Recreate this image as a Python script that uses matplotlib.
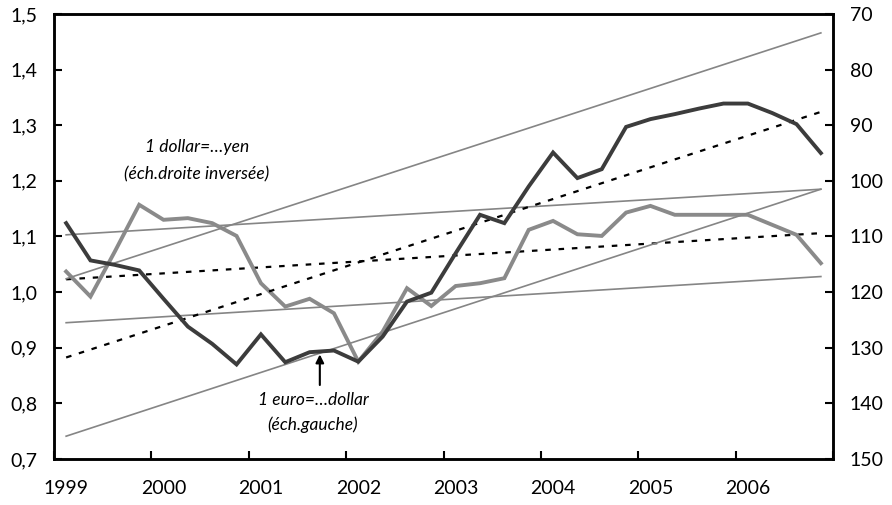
import numpy as np
import matplotlib
matplotlib.use("Agg")
import matplotlib.pyplot as plt

plt.rcParams['font.family'] = ['Lato', 'DejaVu Sans']

# quarterly data, 1999Q1 .. 2006Q4
years = ['1999', '2000', '2001', '2002', '2003', '2004', '2005', '2006']
euro_usd = [1.124, 1.057, 1.049, 1.039, 0.988, 0.938, 0.907, 0.870,
            0.924, 0.874, 0.892, 0.895, 0.875, 0.920, 0.983, 0.999,
            1.070, 1.139, 1.124, 1.190, 1.251, 1.205, 1.221, 1.297,
            1.311, 1.320, 1.330, 1.339, 1.339, 1.322, 1.302, 1.250]
usd_yen = [116.3, 120.8, 112.7, 104.3, 107.0, 106.7, 107.6, 109.9,
           118.4, 122.6, 121.2, 123.8, 132.5, 127.1, 119.3, 122.5,
           118.9, 118.4, 117.5, 108.8, 107.2, 109.6, 109.9, 105.7,
           104.5, 106.1, 106.1, 106.1, 106.1, 107.9, 109.7, 114.8]

# trend lines (start, end) and their bands
euro_trend = [0.8825, 1.324]
euro_upper = [1.024, 1.466]
euro_lower = [0.741, 1.185]
yen_trend = [117.7, 109.4]
yen_upper = [109.7, 101.5]
yen_lower = [125.5, 117.2]

x = np.arange(len(euro_usd))
x_ends = [x[0], x[-1]]

fig = plt.figure(figsize=(8.92, 5.05), dpi=100)
ax = fig.add_axes([0.0605, 0.0911, 0.8734, 0.8812])
ax2 = ax.twinx()

band_col = '#858585'
for vals in (euro_upper, euro_lower):
    ax.plot(x_ends, vals, color=band_col, lw=1.2)
ax.plot(x_ends, euro_trend, color='black', lw=1.6, ls=(0, (2.5, 3.5)))
for vals in (yen_upper, yen_lower):
    ax2.plot(x_ends, vals, color=band_col, lw=1.2)
ax2.plot(x_ends, yen_trend, color='black', lw=1.6, ls=(0, (2.5, 3.5)))

ax2.plot(x, usd_yen, color='#8a8a8a', lw=2.8, solid_joinstyle='miter')
ax.plot(x, euro_usd, color='#3c3c3c', lw=2.8, solid_joinstyle='miter')
ax.set_zorder(ax2.get_zorder() + 1)
ax.patch.set_visible(False)

ax.set_xlim(-0.5, len(x) - 0.5)
ax.set_ylim(0.7, 1.5)
ax2.set_ylim(150, 70)

ax.set_xticks(np.arange(-0.5, len(x), 4))
ax.set_xticklabels([])
ax.set_xticks(np.arange(0, len(x), 4), minor=True)
ax.set_xticklabels(years, minor=True)
ax.tick_params(axis='x', which='major', direction='in', length=6, width=1.5)
ax.tick_params(axis='x', which='minor', length=0, pad=15, labelsize=14)

ax.set_yticks(np.arange(0.7, 1.51, 0.1))
ax.set_yticklabels([f"{v:.1f}".replace('.', ',') for v in np.arange(0.7, 1.51, 0.1)])
ax.tick_params(axis='y', direction='in', length=6, width=1.5, pad=12, labelsize=14)
ax2.set_yticks(np.arange(70, 151, 10))
ax2.tick_params(axis='y', direction='in', length=6, width=1.5, pad=12, labelsize=14)

for a in (ax, ax2):
    for sp in a.spines.values():
        sp.set_linewidth(1.8)
        sp.set_color('black')

ax.text(5.37, 1.261, '1 dollar=\u2026yen', ha='center', va='center',
        style='italic', fontsize=12.5)
ax.text(5.37, 1.211, '(\u00e9ch.droite invers\u00e9e)', ha='center', va='center',
        style='italic', fontsize=12.5)
ax.text(10.14, 0.806, '1 euro=\u2026dollar', ha='center', va='center',
        style='italic', fontsize=12.5)
ax.text(10.14, 0.761, '(\u00e9ch.gauche)', ha='center', va='center',
        style='italic', fontsize=12.5)
ax.annotate('', xy=(10.42, 0.888), xytext=(10.42, 0.833),
            arrowprops=dict(arrowstyle='-|>', color='black', lw=1.5,
                            mutation_scale=12, shrinkA=0, shrinkB=0))

fig.savefig('out.png', dpi=100)
